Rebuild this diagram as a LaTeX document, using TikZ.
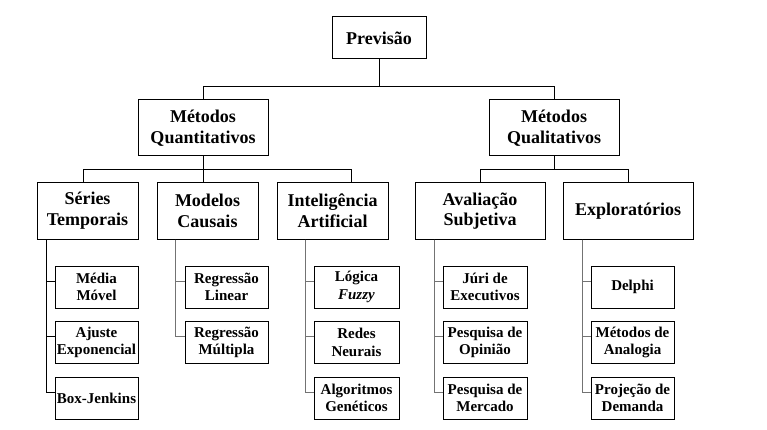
\documentclass[tikz,border=0pt]{standalone}
\usepackage{fontspec}
\setmainfont{Liberation Serif}
\begin{document}
\begin{tikzpicture}[x=1pt,y=-1pt,
  line width=0.9pt,
  bigbox/.style={draw,line width=1pt,inner sep=0pt,align=center,font=\bfseries\fontsize{18}{20.7}\selectfont,minimum height=56pt},
  smallbox/.style={draw,line width=1pt,inner sep=0pt,align=center,font=\bfseries\fontsize{15}{17.6}\selectfont,minimum height=42pt},
  conn/.style={line width=0.9pt},
  grayconn/.style={line width=0.9pt,draw=black!55}]
\useasboundingbox (0,0) rectangle (767,430);
% level 0
\node[bigbox,minimum width=94pt,minimum height=42pt] (prev) at (379,38) {Previsão};
% level 1
\node[bigbox,minimum width=130pt] (mquant) at (203,128) {Métodos\\Quantitativos};
\node[bigbox,minimum width=130pt] (mqual) at (554,128) {Métodos\\Qualitativos};
% level 2
\node[bigbox,minimum width=101pt] (series) at (87.5,211) {Séries\\Temporais};
\node[bigbox,minimum width=101pt] (modelos) at (207.5,211) {Modelos\\Causais};
\node[bigbox,minimum width=111pt] (ia) at (332.5,211) {Inteligência\\Artificial};
\node[bigbox,minimum width=130pt] (aval) at (480,211) {Avaliação\\Subjetiva};
\node[bigbox,minimum width=130pt] (expl) at (628,211) {Exploratórios};
% level 3
\node[smallbox,minimum width=83pt] (mm) at (96.5,287) {Média\\Móvel};
\node[smallbox,minimum width=83pt] (ae) at (96.5,342.5) {Ajuste\\Exponencial};
\node[smallbox,minimum width=83pt] (bj) at (96.5,398) {Box-Jenkins};
\node[smallbox,minimum width=83pt] (rl) at (226.5,287) {Regressão\\Linear};
\node[smallbox,minimum width=83pt] (rm) at (226.5,342.5) {Regressão\\Múltipla};
\node[smallbox,minimum width=85pt] (lf) at (356.5,287) {Lógica\\\textit{Fuzzy}};
\node[smallbox,minimum width=85pt] (rn) at (356.5,342.5) {Redes\\Neurais};
\node[smallbox,minimum width=85pt] (ag) at (356.5,398) {Algoritmos\\Genéticos};
\node[smallbox,minimum width=84pt] (je) at (485,287) {Júri de\\Executivos};
\node[smallbox,minimum width=84pt] (po) at (485,342.5) {Pesquisa de\\Opinião};
\node[smallbox,minimum width=84pt] (pm) at (485,398) {Pesquisa de\\Mercado};
\node[smallbox,minimum width=83pt] (de) at (632.5,287) {Delphi};
\node[smallbox,minimum width=83pt] (ma) at (632.5,342.5) {Métodos de\\Analogia};
\node[smallbox,minimum width=83pt] (pd) at (632.5,398) {Projeção de\\Demanda};
% junctions
\coordinate (j0) at (379,86);
\coordinate (j1) at (203,169);
\coordinate (j2) at (554,169);
% connectors level 0-1
\draw[conn] (prev.south) -- (j0);
\draw[conn] (j0) -| (mquant.north);
\draw[conn] (j0) -| (mqual.north);
% level 1-2
\draw[conn] (mquant.south) -- (j1);
\draw[conn] (j1) -| ([xshift=-4.5pt]series.north);
\draw[conn] (j1) -| (modelos.north -| j1);
\draw[conn] (j1) -| ([xshift=18.5pt]ia.north);
\draw[conn] (mqual.south) -- (j2);
\draw[conn] (j2) -| (aval.north);
\draw[conn] (j2) -| (expl.north);
% level 2-3
\foreach \c in {mm,ae,bj}
  \draw[conn] ([xshift=-41.5pt]series.south) |- ([yshift=6pt]\c.west);
\foreach \c in {rl,rm}
  \draw[grayconn] ([xshift=-32.5pt]modelos.south) |- ([yshift=6pt]\c.west);
\foreach \c in {lf,rn,ag}
  \draw[grayconn] ([xshift=-27.5pt]ia.south) |- ([yshift=6pt]\c.west);
\foreach \c in {je,po,pm}
  \draw[grayconn] ([xshift=-46pt]aval.south) |- ([yshift=6pt]\c.west);
\foreach \c in {de,ma,pd}
  \draw[grayconn] ([xshift=-46pt]expl.south) |- ([yshift=6pt]\c.west);
\end{tikzpicture}
\end{document}
